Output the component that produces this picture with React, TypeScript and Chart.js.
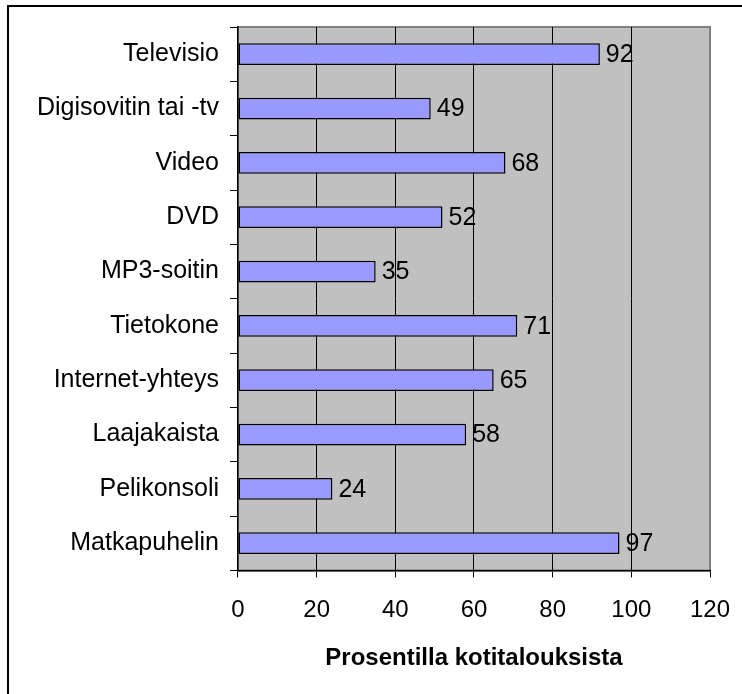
import React, { useEffect, useRef } from "react";
import { Chart, registerables } from "chart.js";

Chart.register(...registerables);

const categories = [
  "Televisio",
  "Digisovitin tai -tv",
  "Video",
  "DVD",
  "MP3-soitin",
  "Tietokone",
  "Internet-yhteys",
  "Laajakaista",
  "Pelikonsoli",
  "Matkapuhelin",
];
const values = [92, 49, 68, 52, 35, 71, 65, 58, 24, 97];
const xTicks = [0, 20, 40, 60, 80, 100, 120];
const axisTitle = "Prosentilla kotitalouksista";

const FONT = 'Arial, "Liberation Sans", sans-serif';

const plotBg = {
  id: "plotBg",
  beforeDraw(chart: any) {
    const { ctx, chartArea: a } = chart;
    ctx.save();
    ctx.fillStyle = "#c0c0c0";
    ctx.fillRect(a.left, a.top, a.right - a.left, a.bottom - a.top);
    ctx.strokeStyle = "#808080";
    ctx.lineWidth = 2;
    ctx.strokeRect(a.left, a.top, a.right - a.left, a.bottom - a.top);
    ctx.restore();
  },
};

const valueLabels = {
  id: "valueLabels",
  afterDatasetsDraw(chart: any) {
    const { ctx } = chart;
    const meta = chart.getDatasetMeta(0);
    ctx.save();
    ctx.font = `25px ${FONT}`;
    ctx.fillStyle = "#000";
    ctx.textAlign = "left";
    ctx.textBaseline = "middle";
    meta.data.forEach((bar: any, i: number) => {
      ctx.fillText(String(values[i]), bar.x + 6, bar.y + 1);
    });
    ctx.restore();
  },
};

export default function App() {
  const ref = useRef<HTMLCanvasElement>(null);
  useEffect(() => {
    if (!ref.current) return;
    const chart = new Chart(ref.current, {
      type: "bar",
      data: {
        labels: categories,
        datasets: [
          {
            data: values,
            backgroundColor: "#9999ff",
            borderColor: "#000000",
            borderWidth: 1.5,
            borderSkipped: false,
            barPercentage: 0.4,
            categoryPercentage: 1,
          },
        ],
      },
      options: {
        indexAxis: "y",
        animation: false,
        responsive: false,
        devicePixelRatio: 1,
        layout: { padding: { left: 26, right: 32, top: 27, bottom: 21 } },
        plugins: {
          legend: { display: false },
          tooltip: { enabled: false },
        },
        scales: {
          x: {
            type: "linear",
            min: 0,
            max: 120,
            afterBuildTicks: (scale: any) => {
              scale.ticks = xTicks.map((v) => ({ value: v }));
            },
            afterFit: (scale: any) => {
              scale.paddingRight = 0;
              scale.paddingLeft = 0;
            },
            grid: {
              color: (c: any) => (c.tick && c.tick.value === 120 ? "#808080" : "#000000"),
              tickColor: "#000000",
              tickLength: 7,
              lineWidth: 1,
            },
            border: { color: "#000000", width: 1.5 },
            ticks: {
              color: "#000000",
              font: { family: FONT, size: 24 },
              padding: 19,
            },
            title: {
              display: true,
              text: axisTitle,
              color: "#000000",
              font: { family: FONT, size: 24, weight: "bold" },
              padding: { top: 0, bottom: 0 },
            },
          },
          y: {
            type: "category",
            grid: {
              offset: true,
              drawOnChartArea: false,
              color: "#000000",
              tickLength: 8,
            },
            border: { color: "#000000", width: 1.5 },
            ticks: {
              color: "#000000",
              font: { family: FONT, size: 25 },
              padding: 11,
            },
          },
        },
      },
      plugins: [plotBg, valueLabels],
    });
    return () => chart.destroy();
  }, []);

  return (
    <div
      style={{
        position: "fixed",
        left: 0,
        top: 0,
        width: 742,
        height: 694,
        overflow: "hidden",
        background: "#fff",
      }}
    >
      <canvas ref={ref} width={742} height={694} style={{ display: "block" }} />
      <div
        style={{
          position: "absolute",
          left: 7,
          top: 5,
          width: 800,
          height: 800,
          borderTop: "2px solid #000",
          borderLeft: "2px solid #000",
          pointerEvents: "none",
        }}
      />
    </div>
  );
}
